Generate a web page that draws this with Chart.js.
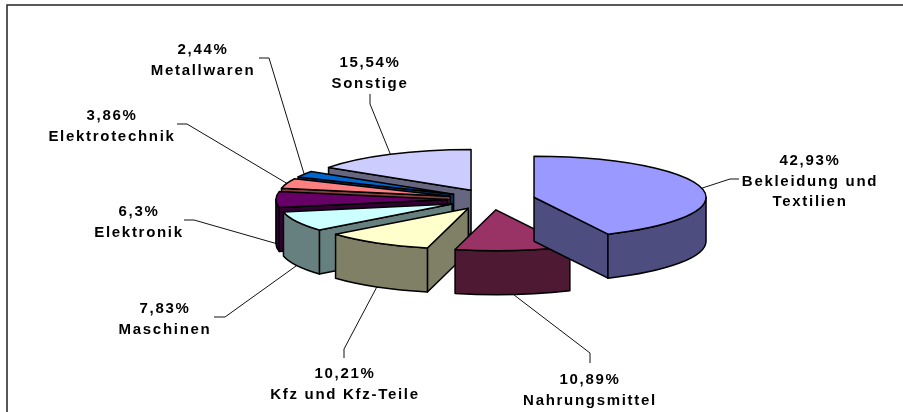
<!DOCTYPE html>
<html>
<head>
<meta charset="utf-8">
<style>
    html, body { margin: 0; padding: 0; background: #fff; }
    canvas { display: block; }
</style>
<script src="https://cdn.jsdelivr.net/npm/chart.js@4"></script>
</head>
<body>
<canvas id="pie" width="903" height="412"></canvas>
<script>
const categories = [['Bekleidung und', 'Textilien'], 'Nahrungsmittel', 'Kfz und Kfz-Teile', 'Maschinen', 'Elektronik', 'Elektrotechnik', 'Metallwaren', 'Sonstige'];
const shares = [42.93, 10.89, 10.21, 7.83, 6.3, 3.86, 2.44, 15.54];
const shareLabels = ['42,93%', '10,89%', '10,21%', '7,83%', '6,3%', '3,86%', '2,44%', '15,54%'];

const topColors = ['#9999FF', '#993366', '#FFFFCC', '#CCFFFF', '#660066', '#FF8080', '#0066CC', '#CCCCFF'];
const wallColors = ['#4D4D80', '#4D1933', '#808066', '#668080', '#330033', '#804040', '#003366', '#666680'];

// back to front
const paintOrder = [7, 6, 5, 4, 3, 2, 1, 0];

// label centre x / first baseline, then leader elbow and tail end
const labelSpots = [[810, 165], [590, 384], [345, 378], [165, 313], [139, 216], [112, 120], [203, 54], [370, 67]];
const leaderElbows = [[730, 179], [590, 353], [344, 349], [225, 317], [194, 220], [187, 124], [269, 58], [370, 104]];
const leaderTails = [[739, 179], [590, 363], [344, 358], [214, 317], [184, 220], [177, 124], [259, 58], [370, 94]];

const TILT = 0.238;
const EXPLODE = 43.6;
const DEPTH = 44;
const CENTER_Y = 199.5;

function sliceGeometry(arc) {
    const mid = (arc.startAngle + arc.endAngle) / 2;
    return {
        x: arc.x + Math.cos(mid) * EXPLODE,
        y: CENTER_Y + Math.sin(mid) * EXPLODE * TILT,
        rx: arc.outerRadius,
        ry: arc.outerRadius * TILT,
        mid: mid
    };
}

function drawWalls(ctx, arc, g, color) {
    ctx.fillStyle = color;
    const px = t => g.x + Math.cos(t) * g.rx;
    const py = t => g.y + Math.sin(t) * g.ry;

    const radial = t => {
        ctx.beginPath();
        ctx.moveTo(g.x, g.y);
        ctx.lineTo(px(t), py(t));
        ctx.lineTo(px(t), py(t) + DEPTH);
        ctx.lineTo(g.x, g.y + DEPTH);
        ctx.closePath();
        ctx.fill();
        ctx.stroke();
    };
    if (Math.cos(arc.startAngle) < 0) radial(arc.startAngle);
    if (Math.cos(arc.endAngle) > 0) radial(arc.endAngle);

    const from = Math.max(arc.startAngle, 0);
    const to = Math.min(arc.endAngle, Math.PI);
    if (to > from) {
        ctx.beginPath();
        ctx.ellipse(g.x, g.y, g.rx, g.ry, 0, from, to);
        ctx.lineTo(px(to), py(to) + DEPTH);
        ctx.ellipse(g.x, g.y + DEPTH, g.rx, g.ry, 0, to, from, true);
        ctx.closePath();
        ctx.fill();
        ctx.stroke();
    }
}

const pie3d = {
    id: 'pie3d',
    beforeDraw(chart) {
        const ctx = chart.ctx;
        ctx.save();
        ctx.strokeStyle = '#222';
        ctx.lineWidth = 1.5;
        ctx.beginPath();
        ctx.moveTo(7, 412);
        ctx.lineTo(7, 5);
        ctx.lineTo(903, 5);
        ctx.stroke();
        ctx.restore();
    },
    beforeDatasetDraw() {
        return false; // painted below, the arcs need a tilt and walls
    },
    afterDatasetsDraw(chart) {
        const ctx = chart.ctx;
        const arcs = chart.getDatasetMeta(0).data;

        // leaders go under the slices
        ctx.save();
        ctx.strokeStyle = '#111';
        ctx.lineWidth = 1;
        arcs.forEach((arc, i) => {
            const g = sliceGeometry(arc);
            const front = Math.sin(g.mid) > -0.05;
            ctx.beginPath();
            ctx.moveTo(g.x + Math.cos(g.mid) * g.rx, g.y + Math.sin(g.mid) * g.ry + (front ? DEPTH : 0));
            ctx.lineTo(leaderElbows[i][0], leaderElbows[i][1]);
            ctx.lineTo(leaderTails[i][0], leaderTails[i][1]);
            ctx.stroke();
        });
        ctx.restore();

        paintOrder.forEach(i => {
            const arc = arcs[i];
            const g = sliceGeometry(arc);
            ctx.save();
            ctx.strokeStyle = '#000';
            ctx.lineWidth = 1.5;
            ctx.lineJoin = 'round';
            drawWalls(ctx, arc, g, wallColors[i]);

            ctx.save();
            ctx.translate(g.x, g.y);
            ctx.scale(1, TILT);
            ctx.translate(-arc.x, -arc.y);
            arc.draw(ctx);
            ctx.restore();

            ctx.beginPath();
            ctx.moveTo(g.x, g.y);
            ctx.ellipse(g.x, g.y, g.rx, g.ry, 0, arc.startAngle, arc.endAngle);
            ctx.closePath();
            ctx.stroke();
            ctx.restore();
        });

        ctx.save();
        ctx.fillStyle = '#000';
        ctx.font = 'bold 15px "Liberation Sans", Arial, sans-serif';
        ctx.letterSpacing = '1.7px';
        ctx.textAlign = 'center';
        ctx.textBaseline = 'alphabetic';
        categories.forEach((name, i) => {
            const lines = [shareLabels[i]].concat(name);
            lines.forEach((line, n) => {
                ctx.fillText(line, labelSpots[i][0], labelSpots[i][1] + n * 20.5);
            });
        });
        ctx.restore();
    }
};

new Chart(document.getElementById('pie').getContext('2d'), {
    type: 'pie',
    data: {
        labels: categories,
        datasets: [{
            data: shares,
            backgroundColor: topColors,
            borderWidth: 0
        }]
    },
    options: {
        responsive: false,
        animation: false,
        radius: 172,
        layout: { padding: { left: 80 } },
        plugins: {
            legend: { display: false },
            tooltip: { enabled: false }
        }
    },
    plugins: [pie3d]
});
</script>
</body>
</html>
